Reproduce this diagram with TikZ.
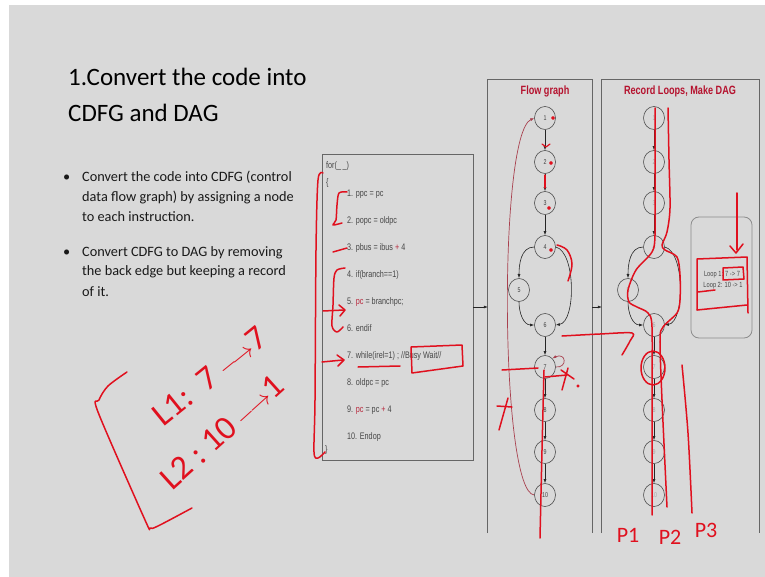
\documentclass[tikz,border=0pt]{standalone}
\usepackage{fontspec}
\setmainfont{Carlito}
\newfontfamily\codefont[FakeStretch=0.76]{Liberation Sans}
\usetikzlibrary{arrows.meta,shapes.geometric}

\definecolor{slidebg}{HTML}{D9D9D9}
\definecolor{pen}{HTML}{E0101E}
\definecolor{codegray}{HTML}{474747}
\definecolor{codered}{HTML}{B8283C}
\definecolor{titlered}{HTML}{B5122E}
\definecolor{edgered}{HTML}{A8404E}

\begin{document}
\begin{tikzpicture}[x=1pt,y=-1pt,
  gnode/.style={ellipse, draw=black!70, line width=0.6pt, minimum width=21pt,
    minimum height=23pt, inner sep=0pt,
    font=\codefont\fontsize{7}{8}\selectfont, text=black!75},
  dnode/.style={gnode, text=black!35},
  edge/.style={-{Latex[length=4pt,width=3pt]}, line width=0.6pt, black!85},
  backedge/.style={-{Latex[length=4pt,width=3pt]}, line width=0.7pt, edgered},
  pen/.style={draw=pen, line width=1.5pt, line cap=round, line join=round},
  panel/.style={draw=black!60, line width=0.8pt},
  codeline/.style={anchor=base west, inner sep=0pt,
    font=\codefont\fontsize{9.5}{11}\selectfont, text=codegray},
  bullettext/.style={anchor=base west, inner sep=0pt,
    font=\fontsize{14.3}{17}\selectfont, text=black!90},
  paneltitle/.style={inner sep=0pt, font=\codefont\bfseries\fontsize{12}{14}\selectfont, text=titlered},
  hand/.style={inner sep=0pt, text=pen, font=\fontsize{34}{38}\selectfont}
]
% slide background
\fill[white] (0,0) rectangle (765,577);
\fill[slidebg] (9,5) rectangle (765,577);
\useasboundingbox (0,0) rectangle (765,577);

% title and bullets
\node[anchor=base west, inner sep=0pt, font=\fontsize{25}{30}\selectfont] (title1) at (68,86) {1.Convert the code into};
\node[anchor=base west, inner sep=0pt, font=\fontsize{25}{30}\selectfont] (title2) at (68,122) {CDFG and DAG};

\node[bullettext] (dot1) at (63,182) {•};
\node[bullettext] (b1a) at (82,182) {Convert the code into CDFG (control};
\node[bullettext] (b1b) at (82,202) {data flow graph) by assigning a node};
\node[bullettext] (b1c) at (82,222) {to each instruction.};
\node[bullettext] (dot2) at (63,256) {•};
\node[bullettext] (b2a) at (82,256) {Convert CDFG to DAG by removing};
\node[bullettext] (b2b) at (82,276) {the back edge but keeping a record};
\node[bullettext] (b2c) at (82,296) {of it.};

% code listing
\node[draw=black!60, line width=0.8pt, minimum width=151pt, minimum height=306pt, inner sep=0pt] (codebox) at (397.5,307) {};
\node[codeline] (c0) at (326,169) {for(\_\,\_)};
\node[codeline] (cb) at (326,186) {\{};
\node[codeline] (c1) at (347,196.5) {1. ppc = pc};
\node[codeline] (c2) at (347,223.5) {2. popc = oldpc};
\node[codeline] (c3) at (347,250.5) {3. pbus = ibus {\color{codered}+} 4};
\node[codeline] (c4) at (347,277.5) {4. if(branch==1)};
\node[codeline] (c5) at (347,304.5) {5. {\color{codered}pc} = branchpc;};
\node[codeline] (c6) at (347,331.5) {6. endif};
\node[codeline] (c7) at (347,358.5) {7. while(irel=1) ; //Busy Wait//};
\node[codeline] (c8) at (347,385.5) {8. oldpc = pc};
\node[codeline] (c9) at (347,412.5) {9. {\color{codered}pc} = pc {\color{codered}+} 4};
\node[codeline] (c10) at (347,439.5) {10. Endop};
\node[codeline] (ce) at (325,452) {\}};

% panels (open at the bottom)
\node[minimum width=104pt, minimum height=453pt, inner sep=0pt] (flowpanel) at (540,306.5) {};
\node[minimum width=157pt, minimum height=453pt, inner sep=0pt] (recpanel) at (680.5,306.5) {};
\draw[panel] (flowpanel.south west) -- (flowpanel.north west) -- (flowpanel.north east) -- (flowpanel.south east);
\draw[panel] (recpanel.south west) -- (recpanel.north west) -- (recpanel.north east) -- (recpanel.south east);
\node[paneltitle] (ftitle) at (545,91) {Flow graph};
\node[paneltitle] (rtitle) at (680,91) {Record Loops, Make DAG};

\draw[edge] (codebox.east) -- (flowpanel.west |- codebox.east);
\draw[edge] (flowpanel.east |- codebox.east) -- (recpanel.west |- codebox.east);

% flow graph
\foreach \i/\y in {1/118,2/162,3/203,4/247,6/325,7/367,8/410,9/452,10/495}
  \node[gnode] (f\i) at (545,\y) {\i};
\node[gnode] (f5) at (519,290) {5};
\foreach \a/\b in {1/2,2/3,3/4,6/7,7/8,8/9,9/10}
  \draw[edge] (f\a) -- (f\b);
\draw[edge] (f4.west) to[out=180,in=90] (f5.north);
\draw[edge] (f5.south) to[out=-90,in=180] (f6.west);
\draw[edge] (f4.east) .. controls (576,252) and (576,322) .. (f6.east);
\draw[backedge] (f10.west) .. controls (500,492) and (498,135) .. (f1.west);
\draw[backedge] (f7.east) .. controls (568,368) and (566,352) .. (f7.50);

% DAG
\foreach \i/\y in {1/118,2/162,3/203,4/247,6/325,7/367,8/410,9/452,10/495}
  \node[dnode] (d\i) at (654,\y) {\i};
\node[dnode] (d5) at (628,290) {5};
\foreach \a/\b in {1/2,2/3,3/4,6/7,7/8,8/9,9/10}
  \draw[edge] (d\a) -- (d\b);
\draw[edge] (d4.west) to[out=180,in=90] (d5.north);
\draw[edge] (d5.south) to[out=-90,in=180] (d6.west);
\draw[edge] (d4.east) .. controls (685,252) and (685,322) .. (d6.east);

% loop record
\node[draw=black!45, line width=0.8pt, rounded corners=8pt, minimum width=61pt, minimum height=121pt, inner sep=0pt] (loopbox) at (721.5,277.5) {};
\node[inner sep=0pt, font=\codefont\fontsize{7.5}{8}\selectfont, text=codegray] (loop1) at (722,275) {Loop 1: 7 -> 7};
\node[inner sep=0pt, font=\codefont\fontsize{7.5}{8}\selectfont, text=codegray] (loop2) at (723,286) {Loop 2: 10 -> 1};

% pen notes on the listing
\draw[pen] plot[smooth, tension=0.5] coordinates {(323,173) (318,180) (316,250) (315,400) (314,452) (318,458) (325,452)};
\draw[pen] plot[smooth, tension=0.5] coordinates {(347,192) (339,193) (337,205) (336,220) (333,225) (342,223)};
\draw[pen] (333,252) -- (347,248);
\draw[pen] plot[smooth, tension=0.5] coordinates {(345,268) (337,270) (334,278) (333,305) (332,326) (337,332) (343,327)};
\draw[pen] (323,311) -- (344,310);
\draw[pen] (339,305) -- (345,310) -- (340,316);
\draw[pen] (322,362) -- (343,360);
\draw[pen] (337,355) -- (344,360) -- (338,366);
\draw[pen] (358,367) -- (400,366);
\draw[pen] (411,347) -- (462,345) -- (463,366) -- (412,373) -- cycle;

% pen notes on the flow graph
\foreach \p in {(553,118),(551,163),(549,208),(551,250)}
  \fill[pen] \p circle (1.2pt);
\draw[pen, line width=1.2pt] (542,144) -- (546,147) -- (550,144);
\draw[pen, line width=1.2pt] (545,175) -- (545,188);
\draw[pen] plot[smooth, tension=0.6] coordinates {(557,245) (567,250) (572,264) (568,281)};
\draw[pen] plot[smooth, tension=0.5] coordinates {(562,336) (600,334) (632,333) (630,341) (622,355)};
\draw[pen] (502,370) -- (538,368);
\draw[pen] (545,377) -- (567,375);
\draw[pen] (561,370) -- (574,379);
\draw[pen] (568,368) -- (562,390);
\fill[pen] (578,386) circle (0.9pt);
\draw[pen] plot[smooth, tension=0.5] coordinates {(544,370) (542,450) (540,538)};
\draw[pen] (497,406) -- (512,407);
\draw[pen] (508,398) -- (499,430);

% pen notes on the DAG
\draw[pen] plot[smooth, tension=0.5] coordinates {(655,108) (655,180) (655,235) (652,252) (636,270) (628,290) (629,302) (637,307) (648,313) (652,327) (652,400) (652,515)};
\draw[pen] plot[smooth, tension=0.5] coordinates {(668,108) (669,160) (670,208) (667,232) (662,245) (665,250) (677,257) (680,275) (680,300) (677,313) (663,327) (660,340) (662,400) (667,507)};
\draw[pen] (653,368) ellipse (12pt and 17pt);
\draw[pen] plot[smooth, tension=0.5] coordinates {(682,365) (688,433) (692,513)};
\draw[pen] (737,193) -- (737,250);
\draw[pen] (730,246) -- (736,253) -- (743,244);
\draw[pen] (697,310) -- (697,259) -- (747,257) -- (748,313);
\draw[pen] (697,310) -- (747,305);
\draw[pen] (723,268) -- (743,267) -- (744,279) -- (723,280) -- cycle;
\draw[pen] (698,292) -- (715,290);
\node[hand, font=\fontsize{22}{24}\selectfont] (p1) at (628,535) {P1};
\node[hand, font=\fontsize{22}{24}\selectfont] (p2) at (670,537) {P2};
\node[hand, font=\fontsize{22}{24}\selectfont] (p3) at (706,530) {P3};

% loop notes beside the bullets
\draw[pen] plot[smooth, tension=0.5] coordinates {(127,372) (108,386) (99,400) (98,412) (145,520) (150,528) (158,526) (192,508)};
\node[hand, rotate=39] (l1) at (210,376) {L1:\ \ 7\,$\longrightarrow$7};
\node[hand, rotate=42] (l2) at (222,432) {L2 :\ 10\,$\longrightarrow$1};
\end{tikzpicture}
\end{document}
